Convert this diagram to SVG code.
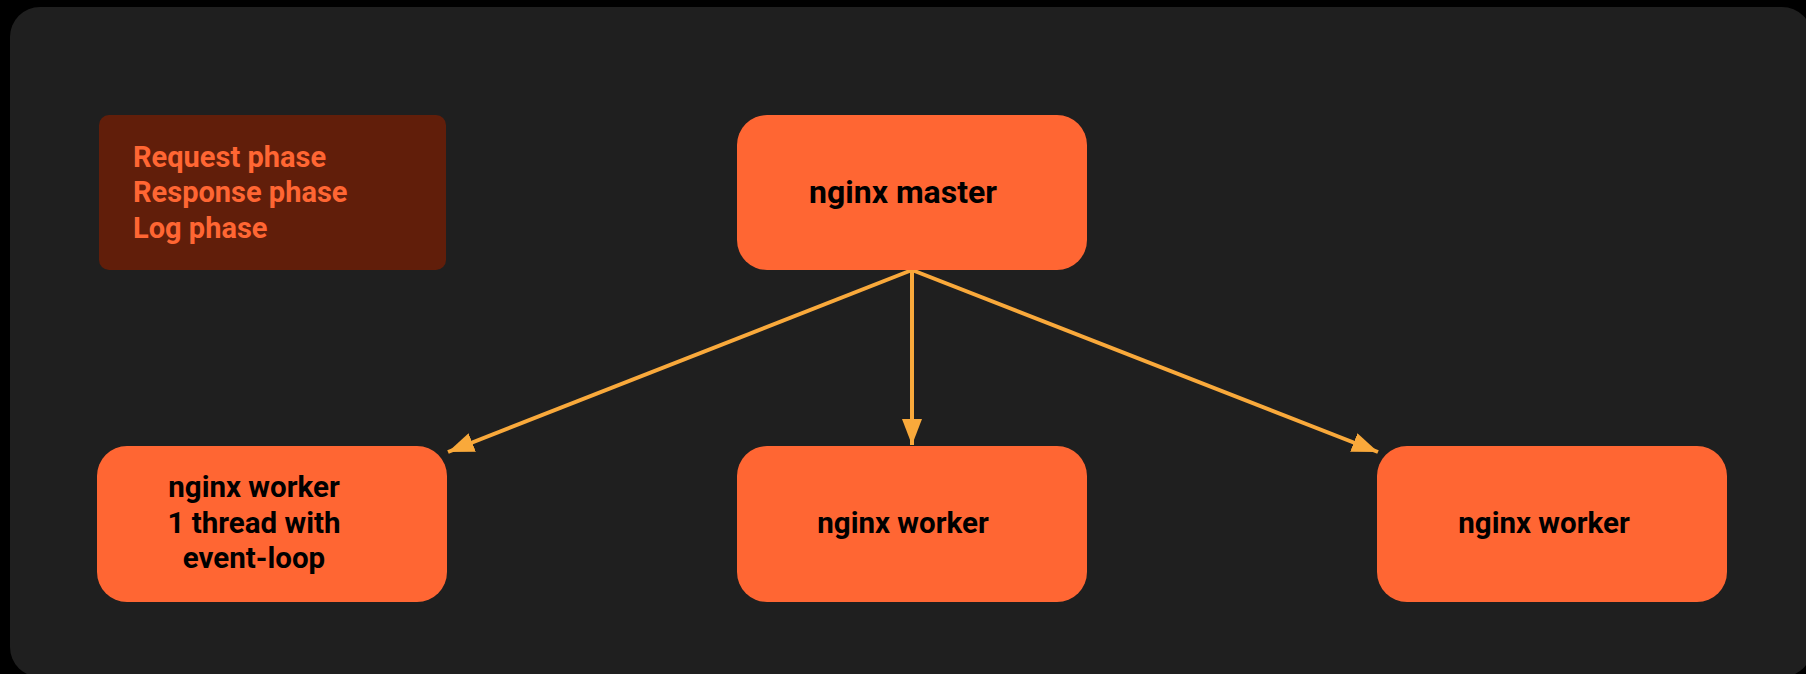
<svg xmlns="http://www.w3.org/2000/svg" width="1806" height="674" viewBox="0 0 1806 674">
<defs>
<style>
.node{fill:#ff6633;}
.lbl{font-family:Roboto,"Liberation Sans",sans-serif;font-weight:700;font-size:29.5px;fill:#000;text-anchor:middle;}
.lblm{font-size:32px;}
.leg{font-family:Roboto,"Liberation Sans",sans-serif;font-weight:700;font-size:29px;fill:#ff6633;}
.edge{stroke:#f9a93b;stroke-width:4;fill:none;marker-end:url(#ah);}
</style>
<marker id="ah" viewBox="0 0 26 20" refX="26" refY="10" markerWidth="26" markerHeight="20" orient="auto" markerUnits="userSpaceOnUse">
<path d="M0,0 L26,10 L0,20 Z" fill="#f9a93b"/>
</marker>
</defs>
<rect x="0" y="0" width="1806" height="674" fill="#000"/>
<rect x="10" y="7" width="1802" height="670" rx="30" fill="#1f1f1f"/>
<g id="legend">
<rect x="99" y="115" width="347" height="155" rx="10" fill="#611e0a"/>
<text class="leg" x="133" y="167">Request phase</text>
<text class="leg" x="133" y="202">Response phase</text>
<text class="leg" x="133" y="238">Log phase</text>
</g>
<g id="connectors">
<line class="edge" x1="912" y1="270" x2="448" y2="452"/>
<line class="edge" x1="912" y1="270" x2="912" y2="445"/>
<line class="edge" x1="912" y1="270" x2="1378" y2="452"/>
</g>
<g id="master">
<rect class="node" x="737" y="115" width="350" height="155" rx="30"/>
<text class="lbl lblm" x="903" y="203">nginx master</text>
</g>
<g id="worker1">
<rect class="node" x="97" y="446" width="350" height="156" rx="30"/>
<text class="lbl" x="254" y="497">nginx worker</text>
<text class="lbl" x="254" y="533">1 thread with</text>
<text class="lbl" x="254" y="568">event-loop</text>
</g>
<g id="worker2">
<rect class="node" x="737" y="446" width="350" height="156" rx="30"/>
<text class="lbl" x="903" y="533">nginx worker</text>
</g>
<g id="worker3">
<rect class="node" x="1377" y="446" width="350" height="156" rx="30"/>
<text class="lbl" x="1544" y="533">nginx worker</text>
</g>
</svg>
